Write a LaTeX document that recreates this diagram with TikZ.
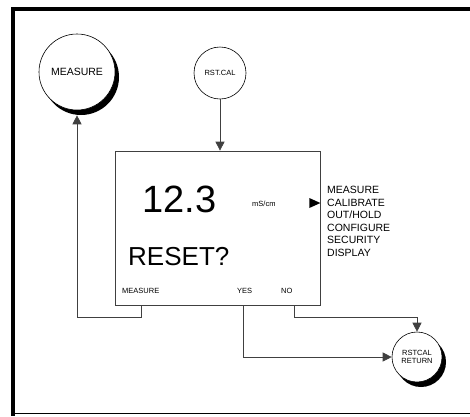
\documentclass[tikz,border=0pt]{standalone}
\usepackage{fontspec}
\setmainfont{Liberation Sans}
\usepackage{tikz}
\usetikzlibrary{arrows.meta}
\usetikzlibrary{shadows}

\tikzset{
  bubble/.style={draw, circle, fill=white, inner sep=0pt, line width=0.6pt},
  shadowed/.style={general shadow={fill=black, shadow xshift=4pt, shadow yshift=-5pt}},
  wire/.style={draw, black!75, line width=0.7pt},
  arr/.style={wire, -{Triangle[length=9pt,width=9pt]}},
  lbl/.style={inner sep=0pt, anchor=base west}
}
\newcommand{\fs}[1]{\fontsize{#1}{#1}\selectfont}

\begin{document}
\begin{tikzpicture}[x=1pt, y=-1pt]
\useasboundingbox (0,0) rectangle (470,416);

% frame
\fill (11,7) rectangle (15,416);
\fill (11,7) rectangle (470,11);
\draw[line width=0.8pt] (15,413) -- (470,413);

% states
\node[bubble, shadowed, minimum size=76pt, font=\fs{10.5}] (measure) at (77,72) {MEASURE};
\node[bubble, minimum size=52pt, font=\fs{7.5}] (rstcal) at (220,73) {RST.CAL};
\node[bubble, shadowed, minimum size=50pt, font=\fs{7.5}, align=center] (rstret) at (417,357) {RSTCAL\\[1pt]RETURN};

% display
\node[draw, black!75, line width=0.7pt, minimum width=205pt, minimum height=154pt] (display) at (217.5,228) {};
\node[lbl, font=\fs{38}] (value) at (142,212) {12.3};
\node[lbl, font=\fs{7.5}] (unit) at (252,206) {mS/cm};
\node[lbl, font=\fs{26}] (prompt) at (128,265) {RESET?};
\node[lbl, font=\fs{7.5}] (keya) at (122,293) {MEASURE};
\node[lbl, font=\fs{7.5}] (keyb) at (237,293) {YES};
\node[lbl, font=\fs{7.5}] (keyc) at (281,293) {NO};

% menu
\node[inner sep=0pt, anchor=north west, align=left, font=\fontsize{10.5}{12.6}\selectfont] (menu) at (327,186)
  {MEASURE\\CALIBRATE\\OUT/HOLD\\CONFIGURE\\SECURITY\\DISPLAY};
\fill (display.east |- 0,203) -- ++(-11,-5) -- ++(0,10) -- cycle;

% transitions
\path[arr] (rstcal.south) -- (rstcal.south |- display.north);
\path[arr] ([xshift=-76.5pt]display.south) -- ++(0,12) -| ([yshift=-5pt]measure.south);
\path[arr] ([xshift=25.5pt]display.south) |- (rstret.west);
\path[arr] ([xshift=76.5pt]display.south) -- ++(0,12) -| (rstret.north);

\end{tikzpicture}
\end{document}
